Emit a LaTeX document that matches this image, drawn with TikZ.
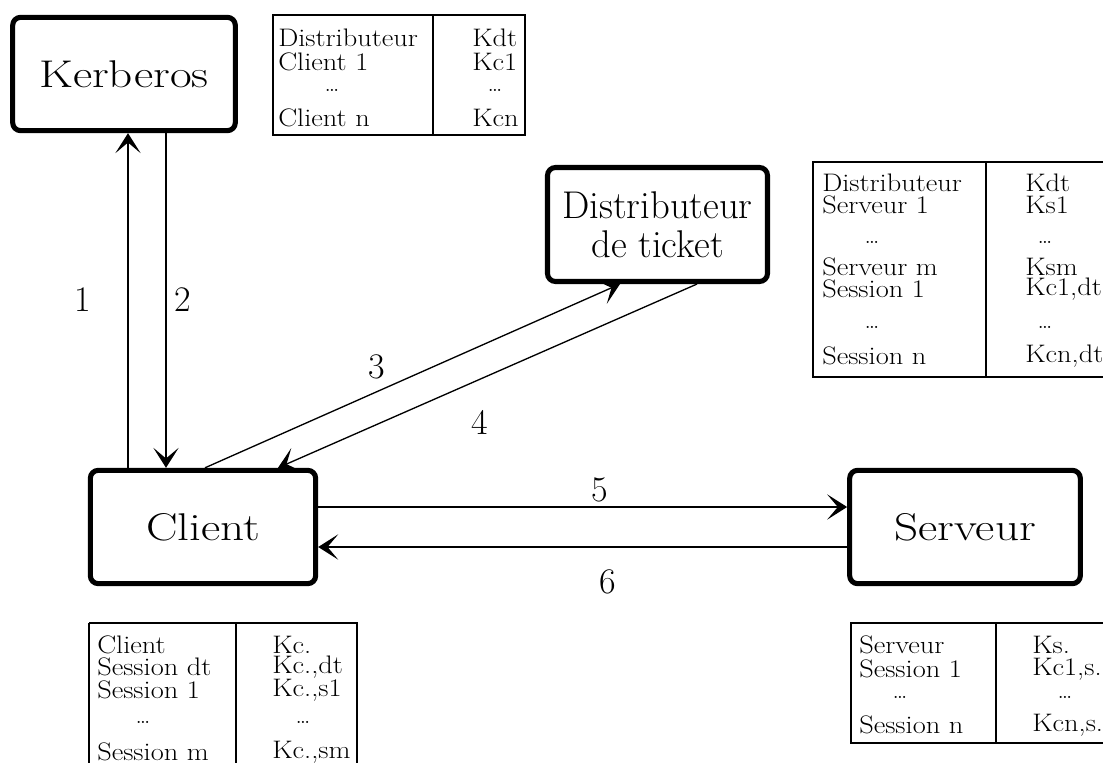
\documentclass[tikz,border=0pt]{standalone}
\usepackage{graphicx}
\usetikzlibrary{arrows.meta}
\newcommand{\bigwide}[1]{\scalebox{1.22}[1]{#1}}
\newcommand{\tabwide}[1]{\scalebox{1.12}[1]{#1}}
\begin{document}
\begin{tikzpicture}[x=0.75pt,y=-0.75pt,
  box/.style={draw, line width=3.8pt, rounded corners=6pt, inner sep=0pt,
    align=center, font=\fontsize{29}{33}\selectfont},
  tbl/.style={draw, line width=1pt},
  cell/.style={inner sep=0pt, anchor=west, font=\fontsize{19}{21}\selectfont},
  dots/.style={inner sep=0pt, anchor=center, font=\fontsize{19}{21}\selectfont},
  arr/.style={line width=1pt, -{Stealth[length=15pt, width=19pt, inset=8pt]}},
  num/.style={inner sep=0pt, font=\fontsize{27}{30}\selectfont}]
\useasboundingbox (0,0) rectangle (1103,763);

% boxes
\node[box, minimum width=167pt, minimum height=85pt] (kerb) at (124,74) {\bigwide{Kerberos}};
\node[box, minimum width=165pt, minimum height=85.5pt] (dist) at (657.5,224.5) {Distributeur\\[-4pt]de ticket};
\node[box, minimum width=169pt, minimum height=85pt] (cli) at (203,527) {\bigwide{Client}};
\node[box, minimum width=173pt, minimum height=85pt] (serv) at (965,527) {\bigwide{Serveur}};

% connector x/y helpers
\coordinate (c1) at (128,0);
\coordinate (c2) at (166,0);
\coordinate (c3a) at (205,0);
\coordinate (c3b) at (620,0);
\coordinate (c4a) at (697,0);
\coordinate (c4b) at (278,0);
\coordinate (c5) at (0,507);
\coordinate (c6) at (0,547);

\draw[arr] (cli.north -| c1) -- (kerb.south -| c1);
\draw[arr] (kerb.south -| c2) -- (cli.north -| c2);
\draw[arr] (cli.north -| c3a) -- (dist.south -| c3b);
\draw[arr] (dist.south -| c4a) -- (cli.north -| c4b);
\draw[arr] (cli.east |- c5) -- (serv.west |- c5);
\draw[arr] (serv.west |- c6) -- (cli.east |- c6);

% labels
\node[num] (l1) at (83,300) {1};
\node[num] (l2) at (183,300) {2};
\node[num] (l3) at (377,367) {3};
\node[num] (l4) at (480,422) {4};
\node[num] (l5) at (600,490) {5};
\node[num] (l6) at (608,582) {6};

% table 1 (Kerberos)
\draw[tbl] (273,15) rectangle (525,135);
\draw[tbl] (433,15) -- (433,135);
\node[cell] (t1a) at (278,38) {\tabwide{Distributeur}};
\node[cell] (t1b) at (278,62) {\tabwide{Client 1}};
\node[dots] (t1c) at (332,90) {\dots};
\node[cell] (t1d) at (278,118) {\tabwide{Client n}};
\node[cell] (t1e) at (472,38) {\tabwide{Kdt}};
\node[cell] (t1f) at (472,62) {\tabwide{Kc1}};
\node[dots] (t1g) at (495,90) {\dots};
\node[cell] (t1h) at (472,118) {\tabwide{Kcn}};

% table 2 (Distributeur)
\draw[tbl] (813,162) rectangle (1110,377);
\draw[tbl] (986,162) -- (986,377);
\node[cell] (t2a) at (822,183) {\tabwide{Distributeur}};
\node[cell] (t2b) at (822,205) {\tabwide{Serveur 1}};
\node[dots] (t2c) at (872,242) {\dots};
\node[cell] (t2d) at (822,267) {\tabwide{Serveur m}};
\node[cell] (t2e) at (822,289) {\tabwide{Session 1}};
\node[dots] (t2f) at (872,327) {\dots};
\node[cell] (t2g) at (822,356) {\tabwide{Session n}};
\node[cell] (t2h) at (1025,183) {\tabwide{Kdt}};
\node[cell] (t2i) at (1025,205) {\tabwide{Ks1}};
\node[dots] (t2j) at (1045,242) {\dots};
\node[cell] (t2k) at (1025,267) {\tabwide{Ksm}};
\node[cell] (t2l) at (1025,289) {\tabwide{Kc1,dt}};
\node[dots] (t2m) at (1045,327) {\dots};
\node[cell] (t2n) at (1025,356) {\tabwide{Kcn,dt}};

% table 3 (Client)
\draw[tbl] (89,623) -- (89,770);
\draw[tbl] (89,623) -- (357,623) -- (357,770);
\draw[tbl] (236,623) -- (236,770);
\node[cell] (t3a) at (97,645) {\tabwide{Client}};
\node[cell] (t3b) at (97,667) {\tabwide{Session dt}};
\node[cell] (t3c) at (97,690) {\tabwide{Session 1}};
\node[dots] (t3d) at (143,722) {\dots};
\node[cell] (t3e) at (97,752) {\tabwide{Session m}};
\node[cell] (t3f) at (272,645) {\tabwide{Kc.}};
\node[cell] (t3g) at (272,667) {\tabwide{Kc.,dt}};
\node[cell] (t3h) at (272,690) {\tabwide{Kc.,s1}};
\node[dots] (t3i) at (303,722) {\dots};
\node[cell] (t3j) at (272,752) {\tabwide{Kc.,sm}};

% table 4 (Serveur)
\draw[tbl] (851,623) rectangle (1110,743);
\draw[tbl] (996,623) -- (996,743);
\node[cell] (t4a) at (859,645) {\tabwide{Serveur}};
\node[cell] (t4b) at (859,669) {\tabwide{Session 1}};
\node[dots] (t4c) at (900,697) {\dots};
\node[cell] (t4d) at (859,725) {\tabwide{Session n}};
\node[cell] (t4e) at (1032,645) {\tabwide{Ks.}};
\node[cell] (t4f) at (1032,669) {\tabwide{Kc1,s.}};
\node[dots] (t4g) at (1065,697) {\dots};
\node[cell] (t4h) at (1032,725) {\tabwide{Kcn,s.}};
\end{tikzpicture}
\end{document}
